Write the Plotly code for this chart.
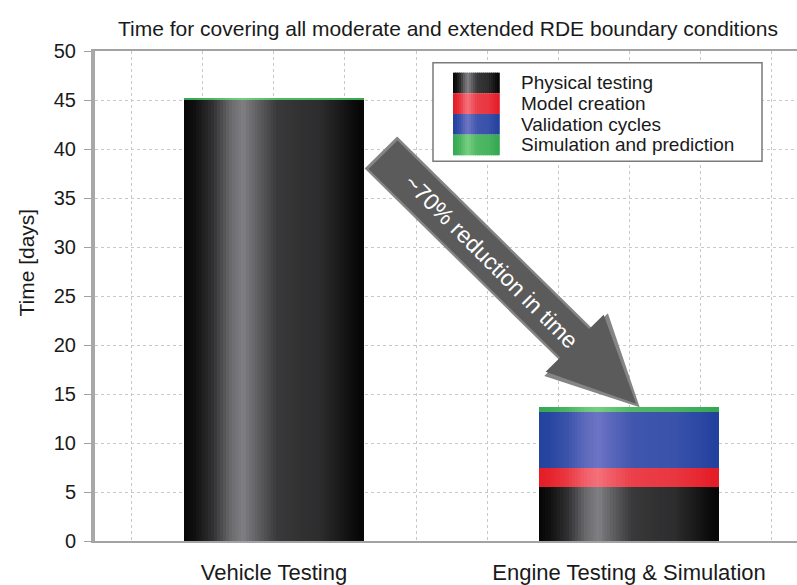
import numpy as np
import plotly.graph_objects as go

# ---------------------------------------------------------------- data
categories = ["Vehicle Testing", "Engine Testing & Simulation"]
series_names = ["Physical testing", "Model creation", "Validation cycles",
                "Simulation and prediction"]
physical_testing = [45.0, 5.5]
model_creation = [0.0, 1.9]
validation_cycles = [0.0, 5.75]
simulation_prediction = [0.15, 0.5]
y_tick_values = [0, 5, 10, 15, 20, 25, 30, 35, 40, 45, 50]
reduction_label = "~70% reduction in time"
chart_title = "Time for covering all moderate and extended RDE boundary conditions"
y_title = "Time [days]"

series_values = [physical_testing, model_creation, validation_cycles,
                 simulation_prediction]

# ---------------------------------------------------------------- styling
FONT = "Liberation Sans, Arial, sans-serif"
TEXT = "#1a1a1a"
# (edge colour, highlight colour) of the cylinder shading for each series
SHADES = [
    ((6, 6, 6), (128, 128, 132)),
    ((228, 28, 38), (244, 112, 122)),
    ((34, 66, 158), (108, 116, 196)),
    ((52, 168, 80), (118, 206, 128)),
]
# brightness across a bar, left edge -> right edge
PROF_T = [0.0, 0.06, 0.16, 0.26, 0.33, 0.42, 0.52, 0.64, 0.76, 0.88, 0.96, 1.0]
PROF_V = [0.0, 0.08, 0.35, 0.82, 1.0, 0.72, 0.42, 0.36, 0.32, 0.16, 0.04, 0.0]

W, H = 797, 585
ML, MR, MT, MB = 95, 0, 51, 36
PW, PH = W - ML - MR, H - MT - MB
X0, X1 = -0.504, 1.473
Y0, Y1 = 0, 50
XPX = PW / (X1 - X0)          # pixels per x unit
YPX = PH / (Y1 - Y0)          # pixels per y unit
BAR_W = 0.5
N_STRIPS = 60


def shade(series_idx, t):
    lo, hi = SHADES[series_idx]
    v = float(np.interp(t, PROF_T, PROF_V))
    c = [round(lo[k] + (hi[k] - lo[k]) * v) for k in range(3)]
    return f"rgb({c[0]},{c[1]},{c[2]})"


fig = go.Figure()

# stacked bars, each drawn as narrow vertical strips to give a cylinder look
step = BAR_W / N_STRIPS
cum = [0.0] * len(categories)
for s, (name, vals) in enumerate(zip(series_names, series_values)):
    xs, ys, bases, cols = [], [], [], []
    for c, v in enumerate(vals):
        if v > 0:
            for k in range(N_STRIPS):
                t = (k + 0.5) / N_STRIPS
                xs.append(c - BAR_W / 2 + (k + 0.5) * step)
                ys.append(v)
                bases.append(cum[c])
                cols.append(shade(s, t))
        cum[c] += v
    fig.add_trace(go.Bar(
        x=xs, y=ys, base=bases, width=step * 1.6, name=name,
        marker=dict(color=cols, line=dict(width=0)),
        showlegend=False, hoverinfo="skip"))

# ---------------------------------------------------------------- arrow
engine_total = sum(v[1] for v in series_values)
tip = (1.03, engine_total)
u = np.array([np.cos(np.pi / 4), np.sin(np.pi / 4)])     # screen, y down
n = np.array([np.sin(np.pi / 4), -np.cos(np.pi / 4)])


def arrow_pt(along, perp):
    dx, dy = along * u + perp * n
    return tip[0] + dx / XPX, tip[1] - dy / YPX


def arrow_path(length, head_len, head_half, shaft_half, tip_back=0.0):
    pts = [
        arrow_pt(-tip_back, 0),
        arrow_pt(-head_len, head_half),
        arrow_pt(-head_len, shaft_half),
        arrow_pt(-length, shaft_half),
        arrow_pt(-length, -shaft_half),
        arrow_pt(-head_len, -shaft_half),
        arrow_pt(-head_len, -head_half),
    ]
    return "M " + " L ".join(f"{x:.5f},{y:.5f}" for x, y in pts) + " Z"


fig.add_shape(type="path", xref="x", yref="y", layer="above",
              path=arrow_path(366, 90, 45, 23),
              fillcolor="#858585", line=dict(width=0))
fig.add_shape(type="path", xref="x", yref="y", layer="above",
              path=arrow_path(363, 92, 41, 20.5, tip_back=5),
              fillcolor="#5b5b5b", line=dict(width=0))
lx, ly = arrow_pt(-209, 0)
fig.add_annotation(x=lx, y=ly, xref="x", yref="y", text=reduction_label,
                   textangle=45, showarrow=False,
                   font=dict(family=FONT, size=23, color="white"))

# ---------------------------------------------------------------- legend


def xp(px):
    return (px - ML) / PW


def yp(py):
    return (H - MB - py) / PH


fig.add_shape(type="rect", xref="paper", yref="paper",
              x0=xp(433), x1=xp(762), y0=yp(163), y1=yp(63),
              fillcolor="white", line=dict(color="#7a7a7a", width=1.5),
              layer="above")
SW_X, SW_W, ROW_TOP, ROW_H = 453, 46, 73, 21
sw_n = 23
for s, name in enumerate(series_names):
    top = ROW_TOP + s * ROW_H
    for k in range(sw_n):
        t = (k + 0.5) / sw_n
        a = SW_X + k * SW_W / sw_n
        fig.add_shape(type="rect", xref="paper", yref="paper", layer="above",
                      x0=xp(a), x1=xp(a + SW_W / sw_n + 0.8),
                      y0=yp(top + ROW_H), y1=yp(top),
                      fillcolor=shade(s, t), line=dict(width=0))
    fig.add_annotation(x=xp(519), y=yp(top + ROW_H / 2), xref="paper",
                       yref="paper", text=name, showarrow=False,
                       xanchor="left", yanchor="middle",
                       font=dict(family=FONT, size=19, color=TEXT))

# ---------------------------------------------------------------- titles
fig.add_annotation(x=xp(448), y=yp(28), xref="paper", yref="paper",
                   text=chart_title, showarrow=False, xanchor="center",
                   yanchor="middle", font=dict(family=FONT, size=21, color=TEXT))
fig.add_annotation(x=xp(27), y=yp(266), xref="paper", yref="paper",
                   text=y_title, showarrow=False, textangle=-90,
                   xanchor="center", yanchor="middle",
                   font=dict(family=FONT, size=21, color=TEXT))

# ---------------------------------------------------------------- axes
grid_x = [round(-0.4 + 0.2 * i, 1) for i in range(10)]
grid_text = [categories[int(round(g))] if abs(g - round(g)) < 1e-9 and
             0 <= round(g) < len(categories) else "" for g in grid_x]

fig.update_layout(
    width=W, height=H,
    margin=dict(l=ML, r=MR, t=MT, b=MB, pad=0),
    paper_bgcolor="white", plot_bgcolor="white",
    barmode="overlay", bargap=0,
    font=dict(family=FONT, color=TEXT),
    showlegend=False,
    xaxis=dict(range=[X0, X1], tickvals=grid_x, ticktext=grid_text,
               showgrid=True, gridcolor="#c9c9c9", griddash="dot",
               gridwidth=1, zeroline=False, ticks="",
               showline=True, linecolor="#a3a3a3", linewidth=2, mirror=True,
               tickfont=dict(family=FONT, size=22, color=TEXT),
               ticklabelstandoff=11, fixedrange=True),
    yaxis=dict(range=[Y0, Y1], tickvals=y_tick_values,
               showgrid=True, gridcolor="#c9c9c9", griddash="dot",
               gridwidth=1, zeroline=False,
               ticks="outside", ticklen=7, tickcolor="#a0a0a0",
               showline=True, linecolor="#a8a8a8", linewidth=4,
               tickfont=dict(family=FONT, size=20, color=TEXT),
               ticklabelstandoff=4, fixedrange=True),
)

fig.write_html("out.html")
